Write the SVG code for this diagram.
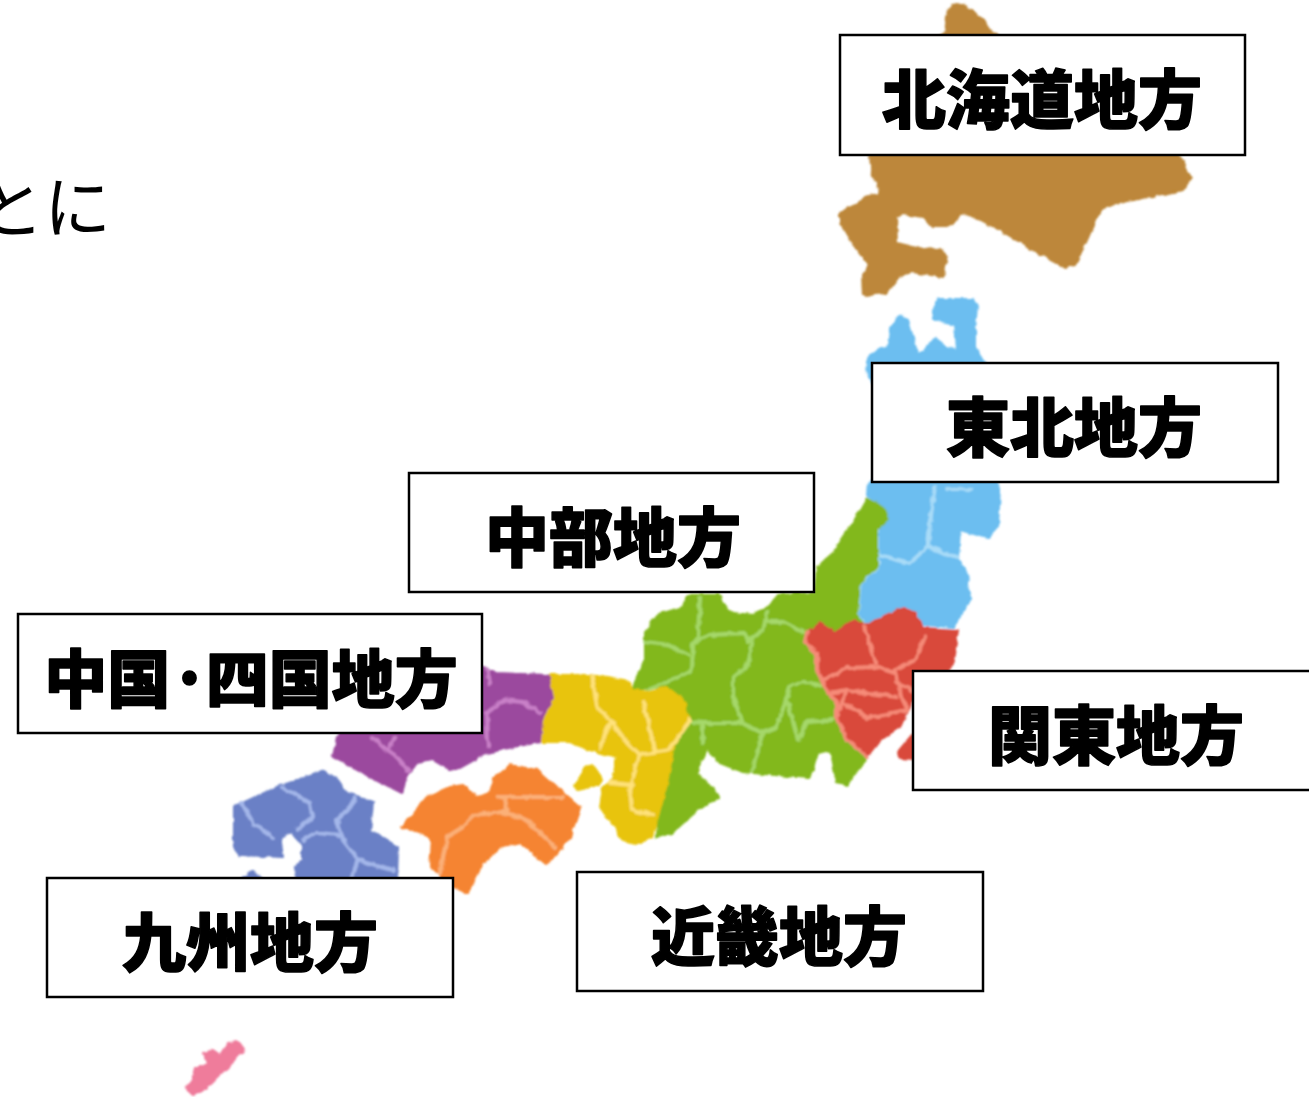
<svg xmlns="http://www.w3.org/2000/svg" width="1309" height="1097" viewBox="0 0 1309 1097">
<style>
.r{fill:none;stroke-linecap:round;stroke-linejoin:round;stroke-width:4}
.a{stroke-width:2;stroke-linejoin:round}
.box{fill:#fff;stroke:#000;stroke-width:2.5}
.lb{font-family:"Noto Sans CJK JP","Noto Sans CJK SC",sans-serif;font-weight:900;font-size:64px;fill:#000;stroke:#000;stroke-width:1.5;stroke-linejoin:round;text-anchor:middle}
.hw{font-family:"Noto Sans CJK JP",sans-serif;font-weight:400;font-size:67px;fill:#000}
</style>
<defs>
<filter id="rough" x="-5%" y="-5%" width="110%" height="110%">
<feTurbulence type="fractalNoise" baseFrequency="0.12" numOctaves="2" seed="4" result="n"/>
<feDisplacementMap in="SourceGraphic" in2="n" scale="5" xChannelSelector="R" yChannelSelector="G"/>
<feGaussianBlur stdDeviation="0.8"/>
</filter>
</defs>
<rect width="1309" height="1097" fill="#fff"/>
<text class="hw" x="-23" y="232">とに</text>
<g id="map" filter="url(#rough)">
<g id="okinawa"><path class="a" fill="#ef7b9b" stroke="#ef7b9b" d="M186 1089L193 1095L203 1091L217 1077L232 1063L244 1050L238 1042L228 1043L220 1055L213 1050L204 1053L207 1063L196 1068L193 1080Z"/></g>
<g id="hokkaido"><path class="a" fill="#bd873a" stroke="#bd873a" d="M945 33L947 17L952 5L958 4L970 10L983 20L993 33L1100 80L1180 156L1191 178L1183 190L1133 200L1103 207L1097 217L1087 240L1075 265L1065 267L1033 250L1000 230L970 214L960 215L947 227L932 227L923 217L903 214L896 217L897 243L917 248L940 249L947 255L943 277L913 272L900 275L887 293L864 295L863 275L869 265L863 258L850 240L840 223L840 213L865 198L878 195L879 183L872 177L870 156L880 90Z"/></g>
<g id="tohoku"><path class="a" fill="#6cbef0" stroke="#6cbef0" d="M933 320L935 303L940 299L972 299L977 304L975 330L975 347L983 361L1000 420L997 483L1000 487L998 527L988 538L960 530L958 560L967 573L970 600L953 627L922 625L915 612L903 607L865 625L857 613L860 582L877 567L877 530L888 520L883 507L867 495L868 483L880 470L880 390L868 377L867 362L870 355L888 345L890 330L898 316L908 320L917 352L923 352L935 338L947 347L957 350L955 325Z"/>
<path class="r" stroke="#a9dcf8" d="M935 487L931 515L928 545M878 555L910 563L928 547L957 557M947 488L970 490M877 530L877 567L860 582L857 613L865 625"/></g>
<g id="chubu"><path class="a" fill="#82b81c" stroke="#82b81c" d="M867 498L883 507L888 520L877 530L877 567L860 582L857 613L865 625L860 660L867 757L847 785L837 782L830 750L818 753L810 778L743 772L720 763L707 748L697 770L700 757L697 773L720 797L700 808L672 833L657 837L660 780L673 750L690 718L683 700L667 687L632 690L633 687L645 660L645 633L657 615L683 607L688 595L720 595L722 603L733 613L753 615L768 607L777 595L815 593L817 567L833 553L853 523Z"/>
<path class="r" stroke="#a6d86a" d="M700 598L698 637L693 643L692 670L672 680L647 690M645 642L667 645L688 655M695 642L710 635L743 633L752 643L748 665L733 678L733 697L743 723M748 642L763 630L767 613M768 622L783 622L803 632M692 722L703 723L743 723L762 733L777 727L785 703L790 687L803 682L820 685M703 725L703 742M762 735L752 770M788 703L798 740L807 722L833 720"/></g>
<g id="kanto"><path class="a" fill="#d9483b" stroke="#d9483b" d="M807 633L820 623L835 633L853 620L865 625L903 608L915 613L923 628L958 630L953 660L950 670L912 703L900 727L880 740L867 757L847 740L837 717L837 703L827 690L817 670L817 653L805 643Z"/>
<path class="a" fill="#d9483b" stroke="#d9483b" d="M912 735L897 753L900 758L915 759Z"/>
<path class="r" stroke="#f68b78" d="M865 627L875 663M823 680L847 668L877 667L895 673L903 700L907 708M925 637L915 660L895 670M897 683L912 690M828 693L847 690L897 697M843 703L868 718L907 710M837 713L843 703M847 690L842 703M807 633L805 643L817 653L817 670L827 690L837 703L837 717L847 740L867 757"/></g>
<g id="kinki"><path class="a" fill="#e8c40a" stroke="#e8c40a" d="M548 675L590 675L630 682L632 690L650 692L667 687L683 700L690 718L673 750L667 783L657 820L653 837L637 843L623 840L612 823L600 807L603 788L612 780L617 757L590 750L570 742L542 742L543 717L553 698Z"/>
<path class="a" fill="#e8c40a" stroke="#e8c40a" d="M574 788L585 768L592 764L600 775L600 785L578 790Z"/>
<path class="r" stroke="#ffe27a" d="M592 677L598 710L610 720L627 743L640 755L670 750L690 720M643 702L655 750M610 722L600 748M638 757L630 790L632 810L653 815M610 783L632 785"/></g>
<g id="chugoku"><path class="a" fill="#9b4a9e" stroke="#9b4a9e" d="M440 665L483 667L497 673L548 675L553 698L542 720L540 742L513 747L487 753L460 768L450 770L433 760L417 763L407 775L402 793L363 773L333 757L337 737L350 700Z"/>
<path class="r" stroke="#c980c8" d="M487 670L490 683M488 747L487 713L503 700L523 702L540 713M373 737L383 747L397 757L408 770M395 737L390 747"/></g>
<g id="shikoku"><path class="a" fill="#f58430" stroke="#f58430" d="M402 827L427 797L450 787L463 785L477 797L490 793L495 777L510 765L537 770L580 808L570 837L547 865L520 842L500 847L483 863L468 893L453 887L430 867L432 840L423 833Z"/>
<path class="r" stroke="#fbb078" d="M440 873L447 837L463 827L473 815L503 812L527 820L555 847M497 797L563 797M505 798L507 812"/></g>
<g id="kyushu"><path class="a" fill="#6a80c6" stroke="#6a80c6" d="M234 807L234 847L240 855L283 857L280 837L292 832L303 847L303 860L295 868L298 880L397 880L398 847L370 830L373 803L347 793L338 780L325 771L277 787Z"/>
<path class="a" fill="#6a80c6" stroke="#6a80c6" d="M242 880L252 871L262 880Z"/>
<path class="r" stroke="#a4b7ea" d="M242 803L253 823L273 838M283 788L310 803L312 817L297 830M355 798L348 810L337 820L343 840L358 860L352 877M303 840L317 833L340 835M358 860L393 870"/></g>
</g>
<g id="label-hokkaido"><rect class="box" x="840" y="35" width="405" height="120"/><text class="lb" x="1042" y="123">北海道地方</text></g>
<g id="label-tohoku"><rect class="box" x="872" y="363" width="406" height="119"/><text class="lb" x="1074" y="451">東北地方</text></g>
<g id="label-chubu"><rect class="box" x="409" y="473" width="405" height="119"/><text class="lb" x="613" y="561">中部地方</text></g>
<g id="label-chugoku-shikoku"><rect class="box" x="18" y="614" width="464" height="119"/><text class="lb" x="251" y="702" style="font-size:63px">中国·<tspan dx="-3">四国地方</tspan></text></g>
<g id="label-kanto"><rect class="box" x="913" y="671" width="410" height="119"/><text class="lb" x="1116" y="759">関東地方</text></g>
<g id="label-kyushu"><rect class="box" x="47" y="878" width="406" height="119"/><text class="lb" x="250" y="966">九州地方</text></g>
<g id="label-kinki"><rect class="box" x="577" y="872" width="406" height="119"/><text class="lb" x="779" y="960">近畿地方</text></g>
</svg>
